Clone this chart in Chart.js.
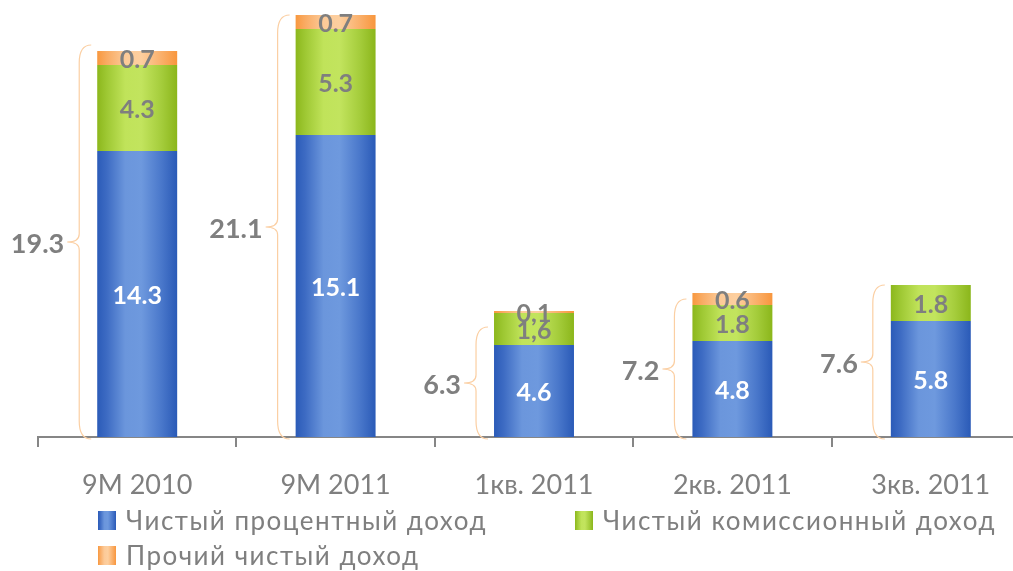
<!DOCTYPE html>
<html><head><meta charset="utf-8">
<script src="https://cdn.jsdelivr.net/npm/chart.js@4.4.1/dist/chart.umd.min.js"></script>
<style>html,body{margin:0;padding:0;background:#fff;overflow:hidden;} #wrap{width:1030px;height:571px;}</style>
</head><body><div id="wrap"><canvas id="c" width="1030" height="571"></canvas></div>
<script>
const categories = ['9M 2010', '9M 2011', '1кв. 2011', '2кв. 2011', '3кв. 2011'];
const interestIncome = [14.3, 15.1, 4.6, 4.8, 5.8];
const commissionIncome = [4.3, 5.3, 1.6, 1.8, 1.8];
const otherIncome = [0.7, 0.7, 0.1, 0.6, 0];
const totals = [19.3, 21.1, 6.3, 7.2, 7.6];
const braceTop = [19.6, 21.1, 5.5, 6.9, 7.6];
const interestLabels = ['14.3', '15.1', '4.6', '4.8', '5.8'];
const commissionLabels = ['4.3', '5.3', '1,6', '1.8', '1.8'];
const otherLabels = ['0.7', '0.7', '0,1', '0.6', ''];
const totalLabels = ['19.3', '21.1', '6.3', '7.2', '7.6'];
const seriesNames = ['Чистый процентный доход', 'Чистый комиссионный доход', 'Прочий чистый доход'];

const FONT = 'Lato';
const GRAY = '#7f7f7f';
const BAR_PCT = 0.403;
const blueStops = [[0, '#2b5bb8'], [0.12, '#3d6bc3'], [0.35, '#6b96dc'], [0.55, '#6e99de'], [0.8, '#4a78cb'], [1, '#2a5ab7']];
const greenStops = [[0, '#8cb71c'], [0.12, '#9ec833'], [0.35, '#c0e35a'], [0.55, '#c2e45e'], [0.8, '#a5cd3c'], [1, '#8bb61b']];
const orangeStops = [[0, '#f8983f'], [0.12, '#f9ab63'], [0.35, '#fcca98'], [0.55, '#fdcf9f'], [0.8, '#fab06b'], [1, '#f8963d']];

function makeGrad(c2d, x0, x1, stops) {
  const g = c2d.createLinearGradient(x0, 0, x1, 0);
  stops.forEach(s => g.addColorStop(s[0], s[1]));
  return g;
}
function barFill(stops) {
  return function (ctx) {
    const chart = ctx.chart;
    if (!chart.chartArea || ctx.dataIndex === undefined) return stops[3][1];
    const xs = chart.scales.x;
    const cx = xs.getPixelForValue(ctx.dataIndex);
    const w = (xs.width / categories.length) * BAR_PCT;
    return makeGrad(chart.ctx, cx - w / 2, cx + w / 2, stops);
  };
}

const labelSets = [interestLabels, commissionLabels, otherLabels];

const overlayPlugin = {
  id: 'overlay',
  afterDatasetsDraw(chart) {
    const c = chart.ctx;
    c.save();
    c.textAlign = 'center';
    c.textBaseline = 'middle';
    c.font = 'bold 25px ' + FONT;
    chart.data.datasets.forEach((ds, di) => {
      const meta = chart.getDatasetMeta(di);
      meta.data.forEach((el, i) => {
        const txt = labelSets[di][i];
        if (!txt || !ds.data[i]) return;
        c.fillStyle = di === 0 ? '#ffffff' : GRAY;
        c.fillText(txt, el.x, (el.y + el.base) / 2 + 2);
      });
    });
    const ys = chart.scales.y;
    const meta0 = chart.getDatasetMeta(0);
    meta0.data.forEach((el, i) => {
      const bl = el.x - el.width / 2;
      const xr = bl - 6, xv = bl - 18, xt = bl - 30;
      const yt = ys.getPixelForValue(braceTop[i]);
      const yb = ys.getPixelForValue(-0.1);
      const ym = (yt + yb) / 2;
      const r = Math.min(18, (yb - yt) / 6);
      const r2 = 8;
      c.beginPath();
      c.moveTo(xr, yt);
      c.quadraticCurveTo(xv, yt, xv, yt + r);
      c.lineTo(xv, ym - r2);
      c.quadraticCurveTo(xv, ym, xt, ym);
      c.quadraticCurveTo(xv, ym, xv, ym + r2);
      c.lineTo(xv, yb - r);
      c.quadraticCurveTo(xv, yb, xr, yb);
      c.strokeStyle = '#fbcfa3';
      c.lineWidth = 1.2;
      c.stroke();
      c.font = 'bold 27px ' + FONT;
      c.fillStyle = GRAY;
      c.textAlign = 'right';
      c.textBaseline = 'middle';
      c.fillText(totalLabels[i], xt - 3, ym + 2);
    });
    c.restore();
  },
  afterDraw(chart) {
    const c = chart.ctx;
    c.save();
    const items = [
      { name: seriesNames[0], stops: blueStops, x: 98, y: 521 },
      { name: seriesNames[1], stops: greenStops, x: 575, y: 521 },
      { name: seriesNames[2], stops: orangeStops, x: 98, y: 556 }
    ];
    c.font = '26px ' + FONT;
    c.letterSpacing = '1.5px';
    c.textAlign = 'left';
    c.textBaseline = 'middle';
    items.forEach(it => {
      c.fillStyle = makeGrad(c, it.x, it.x + 18, it.stops);
      c.fillRect(it.x, it.y - 10, 18, 19);
      c.fillStyle = GRAY;
      c.fillText(it.name, it.x + 28, it.y + 1);
    });
    c.restore();
  }
};

new Chart(document.getElementById('c'), {
  type: 'bar',
  data: {
    labels: categories,
    datasets: [
      { label: seriesNames[0], data: interestIncome, backgroundColor: barFill(blueStops) },
      { label: seriesNames[1], data: commissionIncome, backgroundColor: barFill(greenStops) },
      { label: seriesNames[2], data: otherIncome, backgroundColor: barFill(orangeStops) }
    ]
  },
  options: {
    responsive: false,
    animation: false,
    events: [],
    layout: { padding: { top: 15, left: 38, right: 0, bottom: 0 } },
    datasets: { bar: { barPercentage: BAR_PCT, categoryPercentage: 1, borderWidth: 0 } },
    plugins: { legend: { display: false }, tooltip: { enabled: false }, title: { display: false } },
    scales: {
      x: {
        stacked: true,
        offset: true,
        grid: { display: true, offset: true, drawOnChartArea: false, drawTicks: true, tickLength: 10, color: '#868686', lineWidth: 2 },
        border: { display: true, color: '#868686', width: 2 },
        ticks: { color: GRAY, font: { family: FONT, size: 27 }, padding: 22 },
        afterFit(s) { s.height = 134; }
      },
      y: { stacked: true, display: false, min: 0, max: 21.1 }
    }
  },
  plugins: [overlayPlugin]
});
</script>
</body></html>
